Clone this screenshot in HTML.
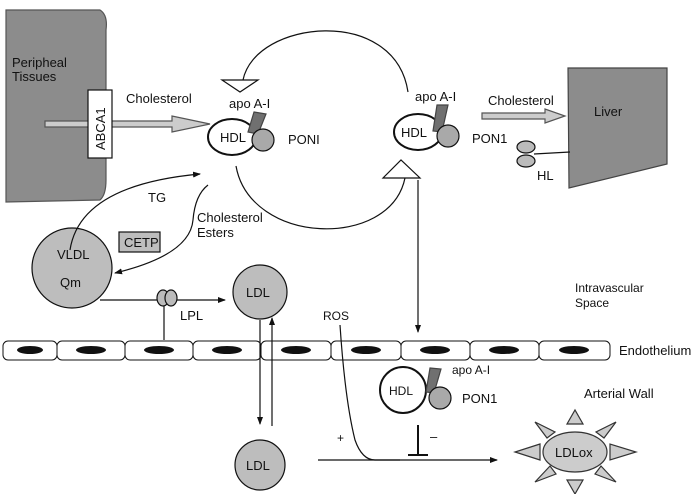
<!DOCTYPE html>
<html><head><style>body{margin:0;background:#fff}svg{display:block}text{font-family:"Liberation Sans",sans-serif;font-size:13px;fill:#111}</style></head><body>
<svg width="700" height="494" viewBox="0 0 700 494">
<defs><marker id="a" markerWidth="8" markerHeight="8" refX="7" refY="4" orient="auto" markerUnits="userSpaceOnUse"><path d="M0,1 L8,4 L0,7 Z" fill="#111"/></marker></defs>
<g stroke="#111" stroke-width="1.2" fill="none">
<path d="M6,10 L100,10 Q108,15 106,30 L106,180 Q106,195 100,200 L6,202 Z" fill="#8c8c8c" stroke="#555"/>
<path d="M45,121 L172,121 L172,116 L210,124 L172,132 L172,127 L45,127 Z" fill="#ccc" stroke="#555"/>
<rect x="88" y="90" width="24" height="68" fill="#fff"/>
<path d="M243,80 C255,20 395,5 408,92"/>
<path d="M236,166 C250,245 390,250 405,178"/>
<polygon points="222,80 258,80 240,92" fill="#fff"/>
<polygon points="383,178 420,178 401,160" fill="#fff"/>
<ellipse cx="232" cy="137" rx="24" ry="18" stroke-width="2" fill="#fff"/>
<polygon points="254,112 266,114 258,134 248,132" fill="#707070" stroke="#444"/>
<circle cx="263" cy="140" r="11" fill="#a9a9a9"/>
<ellipse cx="418" cy="132" rx="24" ry="18" stroke-width="2" fill="#fff"/>
<polygon points="437,105 448,105 442,132 433,131" fill="#707070" stroke="#444"/>
<circle cx="448" cy="136" r="11" fill="#a9a9a9"/>
<path d="M482,113 L545,113 L545,109 L565,116 L545,123 L545,119 L482,119 Z" fill="#ccc" stroke="#555"/>
<polygon points="568,68 667,68 667,164 569,188" fill="#8c8c8c" stroke="#444"/>
<ellipse cx="526" cy="147" rx="9" ry="6" fill="#bbb"/>
<ellipse cx="526" cy="161" rx="9" ry="6" fill="#bbb"/>
<line x1="534" y1="154" x2="570" y2="152"/>
<line x1="418" y1="180" x2="418" y2="332" marker-end="url(#a)"/>
<circle cx="72" cy="268" r="40" fill="#bdbdbd"/>
<path d="M70,250 Q80,185 200,174" marker-end="url(#a)"/>
<path d="M208,185 Q195,195 193,220 Q190,255 115,273" marker-end="url(#a)"/>
<rect x="119" y="232" width="41" height="20" fill="#bdbdbd"/>
<line x1="100" y1="300" x2="225" y2="300" marker-end="url(#a)"/>
<line x1="164" y1="300" x2="164" y2="340"/>
<ellipse cx="163" cy="298" rx="6" ry="8" fill="#bbb"/>
<ellipse cx="171" cy="298" rx="6" ry="8" fill="#bbb"/>
<circle cx="260" cy="292" r="27" fill="#bdbdbd"/>
<g fill="#fff" stroke-width="1">
<rect x="3" y="341" width="54" height="19" rx="5"/><rect x="57" y="341" width="68" height="19" rx="5"/><rect x="125" y="341" width="68" height="19" rx="5"/><rect x="193" y="341" width="68" height="19" rx="5"/><rect x="261" y="341" width="70" height="19" rx="5"/><rect x="331" y="341" width="70" height="19" rx="5"/><rect x="401" y="341" width="69" height="19" rx="5"/><rect x="470" y="341" width="69" height="19" rx="5"/><rect x="539" y="341" width="71" height="19" rx="5"/>
</g>
<g fill="#111" stroke="none">
<ellipse cx="30" cy="350" rx="13" ry="4"/><ellipse cx="91" cy="350" rx="15" ry="4"/><ellipse cx="159" cy="350" rx="15" ry="4"/><ellipse cx="227" cy="350" rx="15" ry="4"/><ellipse cx="296" cy="350" rx="15" ry="4"/><ellipse cx="366" cy="350" rx="15" ry="4"/><ellipse cx="435" cy="350" rx="15" ry="4"/><ellipse cx="504" cy="350" rx="15" ry="4"/><ellipse cx="574" cy="350" rx="15" ry="4"/>
</g>
<line x1="260" y1="320" x2="260" y2="424" marker-end="url(#a)"/>
<line x1="272" y1="426" x2="272" y2="318" marker-end="url(#a)"/>
<circle cx="260" cy="465" r="25" fill="#bdbdbd"/>
<path d="M340,325 Q345,400 355,440 Q362,460 375,460 L400,460"/>
<line x1="318" y1="460" x2="497" y2="460" marker-end="url(#a)"/>
<line x1="418" y1="425" x2="418" y2="455" stroke-width="2"/>
<line x1="408" y1="455" x2="428" y2="455" stroke-width="2"/>
<circle cx="403" cy="390" r="23" stroke-width="2" fill="#fff"/>
<polygon points="430,368 441,369 434,393 426,392" fill="#707070" stroke="#444"/>
<circle cx="440" cy="398" r="11" fill="#a9a9a9"/>
<g fill="#ccc" stroke="#333">
<ellipse cx="575" cy="452" rx="32" ry="20"/>
<polygon points="567,424 583,424 575,410"/>
<polygon points="567,480 583,480 575,494"/>
<polygon points="540,444 540,460 515,452"/>
<polygon points="610,444 610,460 636,452"/>
<polygon points="535,422 555,432 547,438"/>
<polygon points="616,422 596,432 604,438"/>
<polygon points="535,482 550,466 556,474"/>
<polygon points="616,482 601,466 595,474"/>
</g>
</g>
<text x="12" y="67">Peripheal</text><text x="12" y="81">Tissues</text>
<text transform="translate(105,150) rotate(-90)">ABCA1</text>
<text x="126" y="103">Cholesterol</text>
<text x="229" y="108">apo A-I</text>
<text x="220" y="142">HDL</text>
<text x="288" y="144">PONI</text>
<text x="415" y="101">apo A-I</text>
<text x="401" y="137">HDL</text>
<text x="472" y="143">PON1</text>
<text x="488" y="105">Cholesterol</text>
<text x="594" y="116">Liver</text>
<text x="537" y="180">HL</text>
<text x="148" y="202">TG</text>
<text x="197" y="222">Cholesterol</text><text x="197" y="237">Esters</text>
<text x="124" y="247">CETP</text>
<text x="57" y="259">VLDL</text><text x="60" y="287">Qm</text>
<text x="180" y="320">LPL</text>
<text x="246" y="297">LDL</text>
<text x="575" y="292" style="font-size:12px">Intravascular</text><text x="575" y="307" style="font-size:12px">Space</text>
<text x="323" y="320" style="font-size:12px">ROS</text>
<text x="619" y="355">Endothelium</text>
<text x="452" y="374" style="font-size:12px">apo A-I</text>
<text x="389" y="395" style="font-size:12px">HDL</text>
<text x="462" y="403">PON1</text>
<text x="584" y="398">Arterial Wall</text>
<text x="337" y="442" style="font-size:12px">+</text>
<text x="430" y="441">–</text>
<text x="246" y="470">LDL</text>
<text x="555" y="457">LDLox</text>
</svg>
</body></html>
